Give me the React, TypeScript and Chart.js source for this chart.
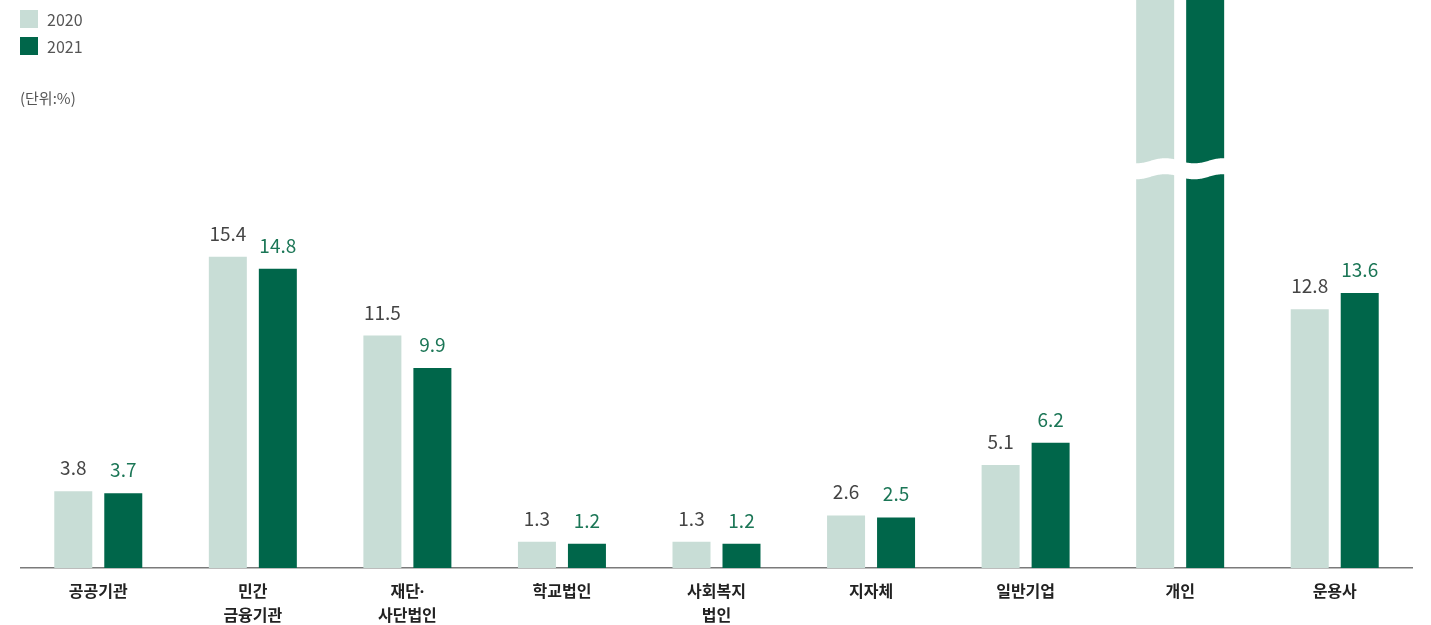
import React, { useEffect, useRef } from "react";
import { Chart, registerables } from "chart.js";

Chart.register(...registerables);

const categories: (string | string[])[] = [
  "공공기관",
  ["민간", "금융기관"],
  ["재단·", "사단법인"],
  "학교법인",
  ["사회복지", "법인"],
  "지자체",
  "일반기업",
  "개인",
  "운용사",
];

// 개인 values are off-scale in the reference (broken bars, no labels shown)
const values2020 = [3.8, 15.4, 11.5, 1.3, 1.3, 2.6, 5.1, 40.0, 12.8];
const values2021 = [3.7, 14.8, 9.9, 1.2, 1.2, 2.5, 6.2, 41.0, 13.6];
const seriesLabels = ["2020", "2021"];
const yMax = 28.1;

const COLOR_2020 = "#c8ddd6";
const COLOR_2021 = "#00664a";
const LABEL_2020 = "#444444";
const LABEL_2021 = "#1b7656";
const FONT = '"Noto Sans CJK KR", "Noto Sans", sans-serif';
const TICK_FONT = '"Noto Sans", "Noto Sans CJK KR", sans-serif';

const valueLabelPlugin = {
  id: "valueLabels",
  afterDatasetsDraw(chart: any) {
    const ctx = chart.ctx;
    const max = chart.scales.y.max;
    ctx.save();
    ctx.font = `400 19px ${FONT}`;
    ctx.textAlign = "center";
    ctx.textBaseline = "alphabetic";
    chart.data.datasets.forEach((ds: any, di: number) => {
      const meta = chart.getDatasetMeta(di);
      meta.data.forEach((bar: any, i: number) => {
        const v = ds.data[i];
        if (v > max) return;
        ctx.fillStyle = di === 0 ? LABEL_2020 : LABEL_2021;
        ctx.fillText(v.toFixed(1), bar.x, bar.y - 16);
      });
    });

    // break marks on off-scale bars
    const m0 = chart.getDatasetMeta(0);
    const m1 = chart.getDatasetMeta(1);
    const area = chart.chartArea;
    chart.data.labels.forEach((_: any, i: number) => {
      const a = chart.data.datasets[0].data[i];
      const b = chart.data.datasets[1].data[i];
      if (a <= max && b <= max) return;
      const b0 = m0.data[i];
      const b1 = m1.data[i];
      const xL = b0.x - b0.width / 2 - 2;
      const xR = b1.x + b1.width / 2 + 2;
      const yTop = area.top + (area.bottom - area.top) * 0.283;
      const thick = 16;
      const amp = 2.6;
      const period = 58;
      const f = (x: number) => yTop + amp * Math.cos((2 * Math.PI * (x - xL - 2)) / period);
      ctx.beginPath();
      ctx.moveTo(xL, f(xL));
      for (let x = xL; x <= xR; x += 1) ctx.lineTo(x, f(x));
      ctx.lineTo(xR, f(xR) + thick);
      for (let x = xR; x >= xL; x -= 1) ctx.lineTo(x, f(x) + thick);
      ctx.closePath();
      ctx.fillStyle = "#ffffff";
      ctx.fill();
    });
    ctx.restore();
  },
};

export default function App() {
  const canvasRef = useRef<HTMLCanvasElement | null>(null);

  useEffect(() => {
    document.body.style.margin = "0";
    const canvas = canvasRef.current;
    if (!canvas) return;
    const chart = new Chart(canvas, {
      type: "bar",
      data: {
        labels: categories,
        datasets: [
          {
            label: seriesLabels[0],
            data: values2020,
            backgroundColor: COLOR_2020,
            categoryPercentage: 100 / 154.56,
            barPercentage: 0.76,
          },
          {
            label: seriesLabels[1],
            data: values2021,
            backgroundColor: COLOR_2021,
            categoryPercentage: 100 / 154.56,
            barPercentage: 0.76,
          },
        ],
      },
      options: {
        responsive: false,
        animation: false,
        devicePixelRatio: 1,
        layout: { padding: { left: 21, right: 19, top: 0, bottom: 0 } },
        plugins: {
          legend: { display: false },
          tooltip: { enabled: false },
        },
        scales: {
          x: {
            grid: { display: false, drawTicks: false, tickLength: 0 },
            border: { display: true, color: "#7a7a7a", width: 1.5 },
            ticks: {
              color: "#222222",
              font: { family: TICK_FONT, size: 16, weight: "bold", lineHeight: 1.5 },
              padding: 12,
              maxRotation: 0,
              autoSkip: false,
            },
            afterFit: (scale: any) => {
              scale.height = 57;
            },
          },
          y: {
            display: false,
            min: 0,
            max: yMax,
          },
        },
      },
      plugins: [valueLabelPlugin],
    });
    return () => chart.destroy();
  }, []);

  const legendItem = (label: string, color: string, top: number) => (
    <div
      key={label}
      style={{ position: "absolute", left: 20, top, display: "flex", alignItems: "center", height: 18 }}
    >
      <div style={{ width: 18, height: 18, background: color }} />
      <span style={{ marginLeft: 9, fontFamily: FONT, fontSize: 16, color: "#555", lineHeight: "18px" }}>
        {label}
      </span>
    </div>
  );

  return (
    <div style={{ position: "relative", width: 1431, height: 625, overflow: "hidden", background: "#fff" }}>
      <canvas ref={canvasRef} width={1431} height={625} style={{ display: "block" }} />
      {legendItem(seriesLabels[0], COLOR_2020, 10)}
      {legendItem(seriesLabels[1], COLOR_2021, 37)}
      <div
        style={{
          position: "absolute",
          left: 20,
          top: 88,
          fontFamily: FONT,
          fontSize: 15,
          color: "#555",
          lineHeight: "20px",
        }}
      >
        (단위:%)
      </div>
    </div>
  );
}
